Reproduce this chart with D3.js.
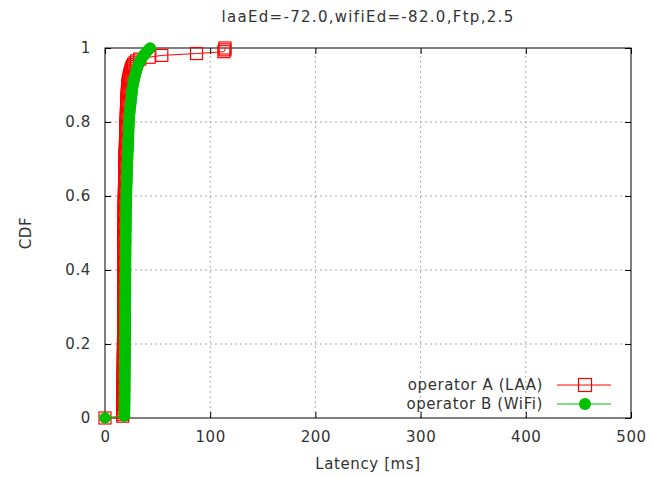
<!DOCTYPE html>
<html><head><meta charset="utf-8">
<script src="https://cdn.jsdelivr.net/npm/d3@7"></script>
<style>
html,body{margin:0;padding:0;background:#fff;}
svg text{font-family:"DejaVu Sans",sans-serif;fill:#333;letter-spacing:0.6px;}
</style></head>
<body>
<svg id="chart" width="652" height="477"></svg>
<script>
const titleText = "laaEd=-72.0,wifiEd=-82.0,Ftp,2.5";
const xLabel = "Latency [ms]";
const yLabel = "CDF";
const xTicks = [0, 100, 200, 300, 400, 500];
const yTicks = [0, 0.2, 0.4, 0.6, 0.8, 1];
const seriesNames = ["operator A (LAA)", "operator B (WiFi)"];
const seriesColors = ["#ff0000", "#00c000"];

// sorted latency samples (ms), CDF = i/(n-1)
const laaLatency = [0,
 16.8,16.9,16.9,17.0,17.0,17.0,17.0,17.1,17.1,17.1,17.1,17.2,17.2,17.2,17.2,17.3,17.3,17.3,17.3,17.3,
 17.4,17.4,17.4,17.4,17.4,17.4,17.5,17.5,17.5,17.5,
 17.5,17.5,17.5,17.6,17.6,17.6,17.6,17.6,17.6,17.6,17.7,17.7,17.7,17.7,17.7,17.7,17.7,17.7,17.7,17.7,
 17.8,17.8,17.8,17.8,17.8,17.8,17.8,17.8,17.8,17.8,17.8,17.8,17.8,17.8,17.9,17.9,17.9,17.9,17.9,17.9,
 17.9,17.9,17.9,17.9,17.9,17.9,18.0,18.0,18.0,18.0,18.0,18.0,18.0,18.0,18.0,18.0,18.0,18.0,18.0,18.0,
 18.0,18.0,18.0,18.1,18.1,18.1,18.1,18.1,18.1,18.1,18.2,18.2,18.2,18.2,18.2,18.2,18.2,18.3,18.3,18.3,
 18.3,18.3,18.3,18.4,18.4,18.4,18.4,18.4,18.5,18.5,
 18.5,18.5,18.6,18.6,18.6,18.7,18.7,18.7,18.8,18.8,18.8,18.9,18.9,18.9,19.0,19.0,19.0,19.1,19.1,19.2,
 19.2,19.2,19.3,19.3,19.4,19.4,19.5,19.5,19.6,19.6,19.7,19.7,19.8,19.8,19.9,19.9,20.0,20.0,20.1,20.2,
 20.2,20.3,20.3,20.4,20.4,20.5,20.5,20.6,20.6,20.7,20.8,20.9,21.0,21.1,21.2,21.3,21.4,21.5,21.6,21.8,
 22.0,22.3,22.6,23.0,23.4,23.8,24.3,24.8,25.4,26.0,
 27,28.5,30,33,
 42,54,87,113,114,114];

const wifiLatency = [0,
 18.5,18.5,18.5,18.6,18.6,18.6,18.6,18.6,18.7,18.7,18.7,18.7,18.7,18.7,18.8,18.8,18.8,18.8,18.8,18.8,
 18.8,18.9,18.9,18.9,18.9,18.9,18.9,18.9,18.9,19.0,19.0,19.0,19.0,19.0,19.0,19.0,19.0,19.0,19.1,19.1,
 19.1,19.1,19.1,19.1,19.1,19.1,19.1,19.2,19.2,19.2,19.2,19.2,19.2,19.2,19.2,19.2,19.2,19.3,19.3,19.3,
 19.3,19.3,19.3,19.3,19.3,19.3,19.3,19.4,19.4,19.4,19.4,19.4,19.4,19.4,19.4,19.4,19.4,19.5,19.5,19.5,
 19.5,19.5,19.5,19.5,19.5,19.5,19.6,19.6,19.6,19.6,19.6,19.6,19.6,19.6,19.7,19.7,19.7,19.7,19.7,19.7,
 19.8,19.8,19.8,19.8,19.9,19.9,19.9,19.9,20.0,20.0,20.0,20.0,20.1,20.1,20.1,20.2,20.2,20.2,20.3,20.3,
 20.4,20.4,20.5,20.5,20.6,20.6,20.7,20.7,20.8,20.8,20.9,20.9,21.0,21.0,21.1,21.1,21.2,21.2,21.3,21.4,
 21.5,21.5,21.6,21.7,21.8,21.8,21.9,22.0,22.0,22.1,22.2,22.2,22.3,22.4,22.4,22.5,22.6,22.6,22.7,22.8,
 22.9,23.0,23.2,23.3,23.5,23.6,23.8,24.0,24.2,24.4,24.6,24.8,25.0,25.2,25.4,25.6,25.8,26.0,26.3,26.6,
 26.9,27.3,27.7,28.1,28.5,29.0,29.5,30.0,30.5,31.0,
 31.8,32.6,33.5,34.5,35.6,36.8,
 38.2,39.6,41.2,43.0];

const svg = d3.select("#chart");
const margin = {left:105, right:21, top:48, bottom:59};
const W = 652, H = 477;
const FS = "15px";
const x = d3.scaleLinear().domain([0,500]).range([margin.left, W - margin.right]);
const y = d3.scaleLinear().domain([0,1]).range([H - margin.bottom, margin.top]);
const x0 = x.range()[0], x1 = x.range()[1], y0 = y.range()[0], y1 = y.range()[1];

// grid
const grid = svg.append("g");
xTicks.filter(t => t > 0 && t < 500).forEach(t => {
  grid.append("line").attr("x1", x(t)).attr("x2", x(t)).attr("y1", y0).attr("y2", y1)
    .attr("stroke", "#a8a8a8").attr("stroke-width", 1).attr("stroke-dasharray", "2,3");
});
yTicks.filter(t => t > 0 && t < 1).forEach(t => {
  grid.append("line").attr("x1", x0).attr("x2", x1).attr("y1", y(t)).attr("y2", y(t))
    .attr("stroke", "#a8a8a8").attr("stroke-width", 1).attr("stroke-dasharray", "2,3");
});

// axes with inner ticks and mirrored ticks
const bottomAxis = d3.axisBottom(x).tickValues(xTicks).tickSize(-6).tickPadding(13).tickFormat(d3.format("d"));
const leftAxis = d3.axisLeft(y).tickValues(yTicks).tickSize(-6).tickPadding(14).tickFormat(d => d === 0 || d === 1 ? String(d) : d3.format(".1f")(d));
const topAxis = d3.axisTop(x).tickValues(xTicks).tickSize(-6).tickFormat("");
const rightAxis = d3.axisRight(y).tickValues(yTicks).tickSize(-6).tickFormat("");

function styleAxis(g){
  g.select(".domain").remove();
  g.selectAll(".tick line").attr("stroke", "#000");
  g.selectAll("text").style("font-family", "DejaVu Sans, sans-serif").style("font-size", FS).attr("fill", "#333");
}
svg.append("g").attr("transform", `translate(0,${y0})`).call(bottomAxis).call(styleAxis);
svg.append("g").attr("transform", `translate(${x0},0)`).call(leftAxis).call(styleAxis);
svg.append("g").attr("transform", `translate(0,${y1})`).call(topAxis).call(styleAxis);
svg.append("g").attr("transform", `translate(${x1},0)`).call(rightAxis).call(styleAxis);

// border
svg.append("rect").attr("x", x0).attr("y", y1).attr("width", x1 - x0).attr("height", y0 - y1)
  .attr("fill", "none").attr("stroke", "#000").attr("stroke-width", 1);

// series
const cdf = arr => arr.map((v, i) => ({x: v, y: i / (arr.length - 1)}));
const laaData = cdf(laaLatency);
const wifiData = cdf(wifiLatency);
const line = d3.line().x(d => x(d.x)).y(d => y(d.y));
const sq = 12;

const gA = svg.append("g");
gA.append("path").datum(laaData).attr("d", line).attr("fill", "none").attr("stroke", seriesColors[0]).attr("stroke-width", 1);
gA.selectAll("rect").data(laaData).enter().append("rect")
  .attr("x", d => x(d.x) - sq/2).attr("y", d => y(d.y) - sq/2).attr("width", sq).attr("height", sq)
  .attr("fill", "none").attr("stroke", seriesColors[0]).attr("stroke-width", 1.2);

const gB = svg.append("g");
gB.append("path").datum(wifiData).attr("d", line).attr("fill", "none").attr("stroke", seriesColors[1]).attr("stroke-width", 1);
gB.selectAll("circle").data(wifiData).enter().append("circle")
  .attr("cx", d => x(d.x)).attr("cy", d => y(d.y)).attr("r", 5.8)
  .attr("fill", seriesColors[1]);

// title and axis labels
svg.append("text").attr("x", (x0 + x1) / 2).attr("y", 22).attr("text-anchor", "middle")
  .style("font-size", FS).style("letter-spacing", "1.3px").text(titleText);
svg.append("text").attr("x", (x0 + x1) / 2).attr("y", 469).attr("text-anchor", "middle")
  .style("font-size", FS).text(xLabel);
svg.append("text").attr("transform", `translate(31,${(y0 + y1) / 2}) rotate(-90)`).attr("text-anchor", "middle")
  .style("font-size", FS).text(yLabel);

// legend
const legY = [385, 404];
seriesNames.forEach((name, i) => {
  svg.append("text").attr("x", 543).attr("y", legY[i] + 5).attr("text-anchor", "end")
    .style("font-size", FS).text(name);
  svg.append("line").attr("x1", 557).attr("x2", 611).attr("y1", legY[i]).attr("y2", legY[i])
    .attr("stroke", seriesColors[i]).attr("stroke-width", 1);
});
svg.append("rect").attr("x", 585 - 6.5).attr("y", legY[0] - 6.5).attr("width", 13).attr("height", 13)
  .attr("fill", "none").attr("stroke", seriesColors[0]).attr("stroke-width", 1.2);
svg.append("circle").attr("cx", 585).attr("cy", legY[1]).attr("r", 6).attr("fill", seriesColors[1]);
</script>
</body></html>
